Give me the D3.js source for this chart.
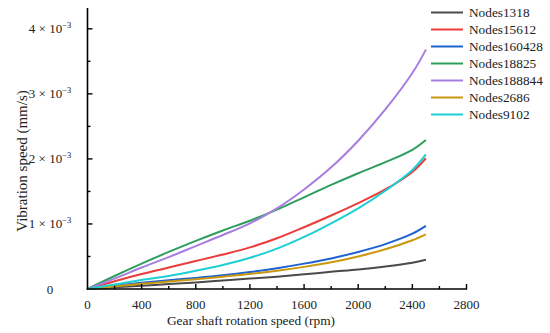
<!DOCTYPE html>
<html><head><meta charset="utf-8">
<script src="https://cdn.jsdelivr.net/npm/d3@7"></script>
<style>body{margin:0;background:#fff}svg{display:block}</style>
</head><body>
<svg id="c" width="550" height="333"></svg>
<script>
const rpm = [0,200,400,600,800,1000,1200,1400,1600,1800,2000,2200,2400,2500];
const seriesNames = ["Nodes1318","Nodes15612","Nodes160428","Nodes18825","Nodes188844","Nodes2686","Nodes9102"];
const seriesColors = ["#4a4a4a","#ec3b3b","#1e62d0","#2e9e5e","#a77de0","#c9980e","#1ccfd4"];
// values in units of 1e-3 mm/s
const nodes1318   = [0,0.025,0.05,0.075,0.10,0.13,0.16,0.19,0.225,0.265,0.30,0.345,0.405,0.45];
const nodes15612  = [0,0.12,0.23,0.33,0.43,0.53,0.64,0.78,0.95,1.13,1.32,1.53,1.80,2.01];
const nodes160428 = [0,0.05,0.095,0.135,0.17,0.21,0.26,0.32,0.39,0.47,0.57,0.69,0.85,0.97];
const nodes18825  = [0,0.20,0.39,0.57,0.74,0.90,1.05,1.22,1.41,1.60,1.78,1.95,2.14,2.29];
const nodes188844 = [0,0.16,0.33,0.49,0.66,0.83,1.01,1.24,1.53,1.87,2.28,2.76,3.32,3.68];
const nodes2686   = [0,0.04,0.08,0.115,0.15,0.19,0.23,0.28,0.34,0.41,0.50,0.61,0.75,0.84];
const nodes9102   = [0,0.07,0.14,0.20,0.28,0.37,0.48,0.62,0.80,1.01,1.24,1.51,1.83,2.07];
const seriesValues = [nodes1318,nodes15612,nodes160428,nodes18825,nodes188844,nodes2686,nodes9102];
const xTicks = [0,400,800,1200,1600,2000,2400,2800];
const yTicks = [0,1,2,3,4];
const yTickLabels = ["0","1 × 10","2 × 10","3 × 10","4 × 10"];

const svg = d3.select("#c");
const font = "'Liberation Serif','Times New Roman',serif";
const x = d3.scaleLinear().domain([0,2800]).range([87.5,466.5]);
const y = d3.scaleLinear().domain([0,4.32]).range([289,8]);

// curves
const line = d3.line().x((d,i)=>x(rpm[i])).y(d=>y(d)).curve(d3.curveCatmullRom.alpha(0.5));
seriesValues.forEach((vals,k)=>{
  svg.append("path").attr("d",line(vals)).attr("fill","none")
    .attr("stroke",seriesColors[k]).attr("stroke-width",2);
});

// axes
const ax = svg.append("g").attr("stroke","#000");
ax.append("line").attr("x1",x(0)).attr("x2",x(0)).attr("y1",y(0)+0.75).attr("y2",y(4.32)).attr("stroke-width",1.6);
ax.append("line").attr("x1",x(0)-0.8).attr("x2",x(2800)+0.6).attr("y1",y(0)).attr("y2",y(0)).attr("stroke-width",1.6);
d3.range(0,2801,200).forEach(v=>{
  if(v===0) return;
  const major = v%400===0;
  ax.append("line").attr("x1",x(v)).attr("x2",x(v)).attr("y1",y(0)).attr("y2",y(0)-(major?5:3)).attr("stroke-width",1.4);
});
d3.range(0.5,4.32,0.5).forEach(v=>{
  const major = Math.abs(v-Math.round(v))<1e-9;
  ax.append("line").attr("x1",x(0)).attr("x2",x(0)+(major?5:3)).attr("y1",y(v)).attr("y2",y(v)).attr("stroke-width",1.4);
});

// x tick labels
svg.append("g").selectAll("text").data(xTicks).join("text")
  .attr("x",d=>x(d)).attr("y",309).attr("text-anchor","middle")
  .attr("font-family",font).attr("font-size",13).attr("fill","#222").text(d=>d);

// y tick labels
const yl = svg.append("g");
yTicks.forEach((v,i)=>{
  const t = yl.append("text").attr("x",50).attr("y",y(v)+4.5).attr("text-anchor","middle")
    .attr("font-family",font).attr("font-size",13).attr("fill","#222");
  t.append("tspan").text(yTickLabels[i]);
  if(v!==0){
    t.append("tspan").attr("dy",-5).attr("font-size",8.5).text("−3");
  }
});

// axis titles
svg.append("text").attr("x",251).attr("y",325).attr("text-anchor","middle")
  .attr("font-family",font).attr("font-size",13.4).attr("fill","#222").text("Gear shaft rotation speed (rpm)");
svg.append("text").attr("transform","translate(27,161) rotate(-90)").attr("text-anchor","middle")
  .attr("font-family",font).attr("font-size",15).attr("fill","#222").text("Vibration speed (mm/s)");

// legend
const lg = svg.append("g");
seriesNames.forEach((n,i)=>{
  const yy = 12.5 + i*17;
  lg.append("line").attr("x1",431).attr("x2",463).attr("y1",yy).attr("y2",yy)
    .attr("stroke",seriesColors[i]).attr("stroke-width",2);
  lg.append("text").attr("x",469).attr("y",yy+4.5).attr("font-family",font).attr("font-size",13.3)
    .attr("fill","#222").text(n);
});
</script>
</body></html>
